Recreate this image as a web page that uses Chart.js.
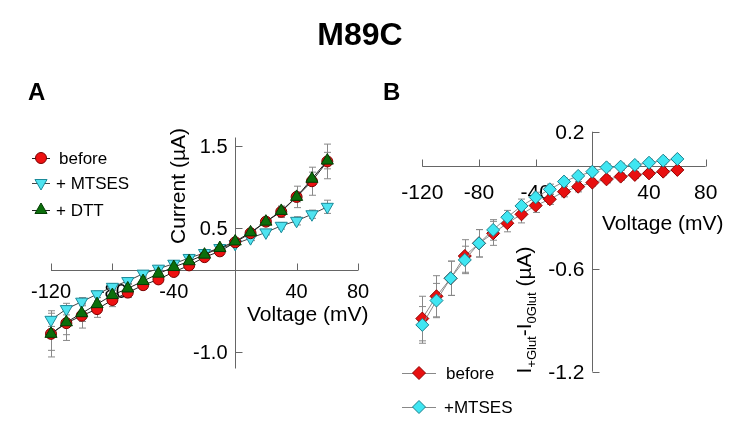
<!DOCTYPE html>
<html>
<head>
<meta charset="utf-8">
<script src="https://cdn.jsdelivr.net/npm/chart.js@4/dist/chart.umd.min.js"></script>
<style>
    body { margin: 0; background: #fff; width: 750px; height: 425px; position: relative; overflow: hidden;
           font-family: "Liberation Sans", Arial, sans-serif; }
    canvas { position: absolute; top: 0; }
    .lbl { position: absolute; font-weight: bold; line-height: 1; white-space: nowrap; color: #000; }
    #title { left: 0; width: 720px; text-align: center; top: 18px; font-size: 32px; }
    #panelA { left: 28px; top: 80px; font-size: 24px; }
    #panelB { left: 383px; top: 80px; font-size: 24px; }
</style>
</head>
<body>
<canvas id="chartA" width="375" height="425" style="left:0"></canvas>
<canvas id="chartB" width="375" height="425" style="left:375px"></canvas>
<div class="lbl" id="title">M89C</div>
<div class="lbl" id="panelA">A</div>
<div class="lbl" id="panelB">B</div>
<script>
// voltage steps (mV)
const voltages = [-120, -110, -100, -90, -80, -70, -60, -50, -40, -30, -20, -10, 0, 10, 20, 30, 40, 50, 60];

// panel A: current (uA)
const beforeA = [-0.78, -0.65, -0.56, -0.48, -0.37, -0.28, -0.19, -0.12, -0.03, 0.05, 0.15, 0.22, 0.33, 0.44, 0.58, 0.70, 0.88, 1.07, 1.31];
const beforeAErr = [0.28, 0.21, 0.15, 0.1, 0.08, 0.06, 0.05, 0.04, 0.04, 0.03, 0.03, 0.03, 0.03, 0.04, 0.05, 0.07, 0.13, 0.17, 0.21];
const mtsesA = [-0.61, -0.48, -0.39, -0.30, -0.21, -0.14, -0.05, 0.01, 0.07, 0.14, 0.20, 0.26, 0.31, 0.38, 0.45, 0.53, 0.59, 0.67, 0.76];
const mtsesAErr = [0.08, 0.07, 0.05, 0.04, 0.04, 0.03, 0.03, 0.03, 0.03, 0.03, 0.03, 0.03, 0.03, 0.03, 0.03, 0.04, 0.05, 0.05, 0.08];
const dttA = [-0.78, -0.64, -0.53, -0.42, -0.31, -0.23, -0.14, -0.05, 0.03, 0.10, 0.18, 0.26, 0.34, 0.45, 0.58, 0.71, 0.88, 1.10, 1.32];
const dttAErr = [0.2, 0.15, 0.1, 0.08, 0.06, 0.05, 0.04, 0.04, 0.03, 0.03, 0.03, 0.03, 0.03, 0.03, 0.04, 0.05, 0.06, 0.08, 0.1];

// panel B: I(+Glut) - I(0Glut) (uA)
const beforeB = [-0.89, -0.76, -0.655, -0.525, -0.451, -0.393, -0.334, -0.282, -0.231, -0.194, -0.150, -0.121, -0.097, -0.078, -0.062, -0.052, -0.043, -0.033, -0.023];
const beforeBErr = [0.13, 0.12, 0.1, 0.095, 0.08, 0.07, 0.05, 0.05, 0.04, 0.03, 0.03, 0.03, 0.02, 0.02, 0.02, 0.02, 0.02, 0.02, 0.02];
const mtsesB = [-0.927, -0.785, -0.655, -0.548, -0.451, -0.373, -0.299, -0.233, -0.183, -0.136, -0.091, -0.058, -0.033, -0.008, -0.004, 0.006, 0.019, 0.031, 0.041];
const mtsesBErr = [0.107, 0.1, 0.1, 0.08, 0.08, 0.06, 0.04, 0.04, 0.03, 0.03, 0.02, 0.02, 0.02, 0.02, 0.02, 0.02, 0.02, 0.02, 0.02];

// axis ticks
const xTicks = [-120, -80, -40, 40, 80];
const xTickLabels = ['-120', '-80', '-40', '40', '80'];
const yTicksA = [1.5, 0.5, -1.0];
const yTickLabelsA = ['1.5', '0.5', '-1.0'];
const yTicksB = [0.2, -0.6, -1.2];
const yTickLabelsB = ['0.2', '-0.6', '-1.2'];

const FAMILY = '"Liberation Sans", Arial, sans-serif';

function pts(ys) {
    return voltages.map((v, i) => ({ x: v, y: ys[i] }));
}

// axes crossing at the origin, drawn from the scales
const crossAxes = {
    id: 'crossAxes',
    beforeDatasetsDraw(chart, args, o) {
        const { ctx, scales: { x, y } } = chart;
        const x0 = Math.round(x.getPixelForValue(0)) + 0.5;
        const y0 = Math.round(y.getPixelForValue(0)) + 0.5;
        ctx.save();
        ctx.strokeStyle = o.color;
        ctx.lineWidth = 1;
        ctx.beginPath();
        ctx.moveTo(x.left, y0); ctx.lineTo(x.right, y0);
        ctx.moveTo(x0, y.top); ctx.lineTo(x0, y.bottom);
        o.xTicks.forEach(v => {
            const px = Math.round(x.getPixelForValue(v)) + 0.5;
            ctx.moveTo(px, y0); ctx.lineTo(px, y0 - o.tickLen);
        });
        o.yTicks.forEach(v => {
            const py = Math.round(y.getPixelForValue(v)) + 0.5;
            ctx.moveTo(x0, py); ctx.lineTo(x0 + o.tickLen, py);
        });
        ctx.stroke();

        ctx.fillStyle = '#000';
        ctx.font = o.tickSize + 'px ' + FAMILY;
        ctx.textBaseline = 'alphabetic';
        ctx.textAlign = 'center';
        o.xTicks.forEach((v, i) => {
            ctx.fillText(o.xLabels[i], x.getPixelForValue(v), y0 + o.xLabelDrop);
        });
        ctx.textAlign = 'right';
        o.yTicks.forEach((v, i) => {
            ctx.fillText(o.yLabels[i], x0 - o.yLabelGap, y.getPixelForValue(v) + o.tickSize * 0.36);
        });

        // x title
        ctx.font = o.titleSize + 'px ' + FAMILY;
        ctx.textAlign = 'left';
        ctx.fillText(o.xTitle.text, o.xTitle.x, o.xTitle.y);

        // y title, rotated, with optional subscripts
        const t = o.yTitle;
        ctx.translate(t.x, t.y);
        ctx.rotate(-Math.PI / 2);
        let total = 0;
        t.parts.forEach(p => {
            ctx.font = (p.sub ? o.subSize : o.titleSize) + 'px ' + FAMILY;
            total += ctx.measureText(p.text).width;
        });
        let cx = -total / 2;
        t.parts.forEach(p => {
            ctx.font = (p.sub ? o.subSize : o.titleSize) + 'px ' + FAMILY;
            ctx.fillText(p.text, cx, p.sub ? 5 : 0);
            cx += ctx.measureText(p.text).width;
        });
        ctx.restore();
    }
};

// vertical error bars behind the markers
const errorBars = {
    id: 'errorBars',
    beforeDatasetsDraw(chart, args, o) {
        const { ctx, scales: { y } } = chart;
        ctx.save();
        ctx.strokeStyle = o.color;
        ctx.lineWidth = 1;
        chart.data.datasets.forEach((ds, i) => {
            const meta = chart.getDatasetMeta(i);
            meta.data.forEach((pt, j) => {
                const e = ds.errors[j];
                const px = Math.round(pt.x) + 0.5;
                const top = y.getPixelForValue(ds.data[j].y + e);
                const bot = y.getPixelForValue(ds.data[j].y - e);
                ctx.beginPath();
                ctx.moveTo(px, top); ctx.lineTo(px, bot);
                ctx.moveTo(px - o.cap, top); ctx.lineTo(px + o.cap, top);
                ctx.moveTo(px - o.cap, bot); ctx.lineTo(px + o.cap, bot);
                ctx.stroke();
            });
        });
        ctx.restore();
    }
};

// hand placed legend using the dataset styles
const markerLegend = {
    id: 'markerLegend',
    afterDatasetsDraw(chart, args, o) {
        const { ctx } = chart;
        ctx.save();
        o.items.forEach(it => {
            const ds = chart.data.datasets[it.index];
            ctx.strokeStyle = ds.borderColor;
            ctx.lineWidth = 1;
            ctx.beginPath();
            ctx.moveTo(it.x1, it.y + 0.5); ctx.lineTo(it.x2, it.y + 0.5);
            ctx.stroke();
            ctx.fillStyle = ds.pointBackgroundColor;
            ctx.strokeStyle = ds.pointBorderColor;
            Chart.helpers.drawPoint(ctx, {
                pointStyle: ds.pointStyle,
                rotation: ds.pointRotation || 0,
                radius: ds.pointRadius,
                borderWidth: 1
            }, (it.x1 + it.x2) / 2, it.y);
            ctx.fillStyle = '#000';
            ctx.font = o.size + 'px ' + FAMILY;
            ctx.textAlign = 'left';
            ctx.textBaseline = 'alphabetic';
            ctx.fillText(ds.label, it.tx, it.y + o.size * 0.36);
        });
        ctx.restore();
    }
};

function baseOptions(pad, yMin, yMax, plugins) {
    return {
        responsive: false,
        animation: false,
        devicePixelRatio: 1,
        layout: { padding: pad, autoPadding: false },
        scales: {
            x: { type: 'linear', min: -120, max: 80, display: false },
            y: { type: 'linear', min: yMin, max: yMax, display: false }
        },
        plugins: Object.assign({ legend: { display: false }, tooltip: { enabled: false } }, plugins)
    };
}

document.addEventListener('DOMContentLoaded', function() {
    new Chart(document.getElementById('chartA'), {
        type: 'line',
        data: {
            datasets: [{
                label: 'before', data: pts(beforeA), errors: beforeAErr, order: 1,
                borderColor: '#222', borderWidth: 1, pointStyle: 'circle', pointRadius: 5.5,
                pointBackgroundColor: '#ee1111', pointBorderColor: '#7a0000', pointBorderWidth: 1, clip: false
            }, {
                label: '+ MTSES', data: pts(mtsesA), errors: mtsesAErr, order: 2,
                borderColor: '#444', borderWidth: 1, pointStyle: 'triangle', pointRotation: 180, pointRadius: 7,
                pointBackgroundColor: '#4fe3f0', pointBorderColor: '#1a8a99', pointBorderWidth: 1, clip: false
            }, {
                label: '+ DTT', data: pts(dttA), errors: dttAErr, order: 0,
                borderColor: '#222', borderWidth: 1, pointStyle: 'triangle', pointRadius: 7,
                pointBackgroundColor: '#0b6e0b', pointBorderColor: '#033d03', pointBorderWidth: 1, clip: false
            }]
        },
        options: baseOptions({ left: 51, right: 17, top: 137.5, bottom: 56.5 }, -1.2, 1.6, {
            crossAxes: {
                color: '#666', tickLen: 7, tickSize: 20, titleSize: 21, subSize: 13,
                xTicks: xTicks, xLabels: xTickLabels, xLabelDrop: 27,
                yTicks: yTicksA, yLabels: yTickLabelsA, yLabelGap: 8,
                xTitle: { text: 'Voltage (mV)', x: 247, y: 321 },
                yTitle: { x: 185, y: 186, parts: [{ text: 'Current (µA)' }] }
            },
            errorBars: { color: '#888', cap: 3.5 },
            markerLegend: {
                size: 17,
                items: [
                    { index: 0, x1: 32, x2: 50, y: 158, tx: 59 },
                    { index: 1, x1: 32, x2: 50, y: 183, tx: 56 },
                    { index: 2, x1: 32, x2: 50, y: 210, tx: 56 }
                ]
            }
        }),
        plugins: [crossAxes, errorBars, markerLegend]
    });

    new Chart(document.getElementById('chartB'), {
        type: 'line',
        data: {
            datasets: [{
                label: 'before', data: pts(beforeB), errors: beforeBErr, order: 1,
                borderColor: '#888', borderWidth: 1, pointStyle: 'rectRot', pointRadius: 6.5,
                pointBackgroundColor: '#e81010', pointBorderColor: '#900000', pointBorderWidth: 1, clip: false
            }, {
                label: '+MTSES', data: pts(mtsesB), errors: mtsesBErr, order: 0,
                borderColor: '#888', borderWidth: 1, pointStyle: 'rectRot', pointRadius: 6.5,
                pointBackgroundColor: '#3fe6f2', pointBorderColor: '#1b7f8c', pointBorderWidth: 1, clip: false
            }]
        },
        options: baseOptions({ left: 47.3, right: 44.3, top: 131.7, bottom: 53.3 }, -1.2, 0.2, {
            crossAxes: {
                color: '#666', tickLen: 7, tickSize: 21, titleSize: 21, subSize: 13,
                xTicks: xTicks, xLabels: xTickLabels, xLabelDrop: 32,
                yTicks: yTicksB, yLabels: yTickLabelsB, yLabelGap: 8,
                xTitle: { text: 'Voltage (mV)', x: 227, y: 230 },
                yTitle: { x: 156, y: 310, parts: [
                    { text: 'I' }, { text: '+Glut', sub: true }, { text: '-I' },
                    { text: '0Glut', sub: true }, { text: ' (µA)' }
                ] }
            },
            errorBars: { color: '#888', cap: 3.5 },
            markerLegend: {
                size: 17,
                items: [
                    { index: 0, x1: 27, x2: 61, y: 373, tx: 71 },
                    { index: 1, x1: 27, x2: 61, y: 407, tx: 69 }
                ]
            }
        }),
        plugins: [crossAxes, errorBars, markerLegend]
    });
});
</script>
</body>
</html>
